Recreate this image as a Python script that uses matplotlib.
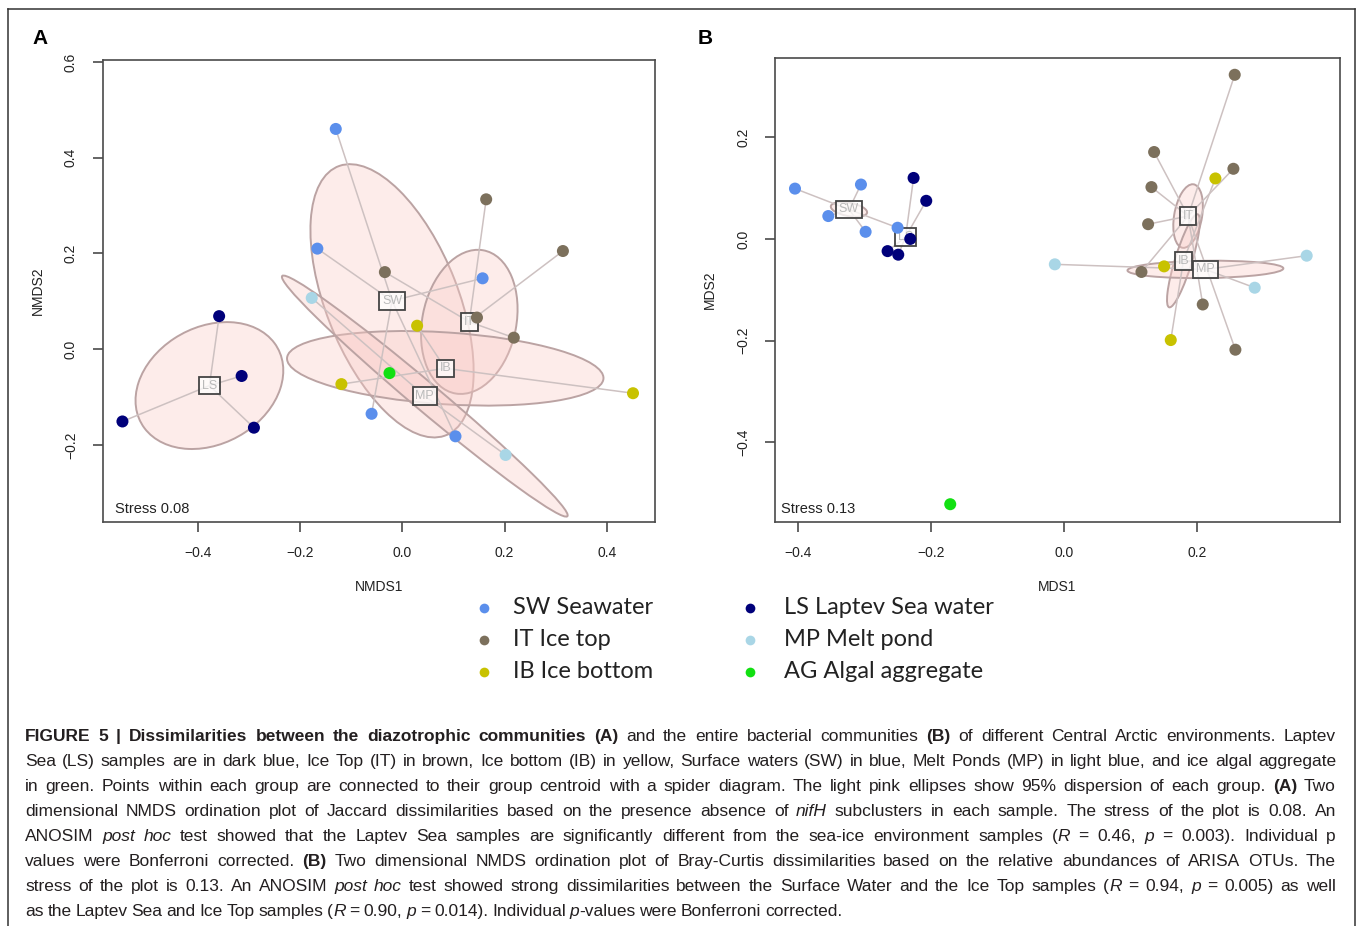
import matplotlib
matplotlib.use("Agg")
import matplotlib.pyplot as plt
from matplotlib.patches import Ellipse
from matplotlib.lines import Line2D
from matplotlib import font_manager
from matplotlib.font_manager import FontProperties

# ---------------- data ----------------
groups = ["SW", "IT", "IB", "LS", "MP", "AG"]
group_names = ["SW Seawater", "IT Ice top", "IB Ice bottom",
               "LS Laptev Sea water", "MP Melt pond", "AG Algal aggregate"]

# Panel A (NMDS, Jaccard on nifH)
a_sw = [(-0.130, 0.460), (-0.166, 0.210), (0.157, 0.148), (-0.060, -0.135), (0.104, -0.182)]
a_it = [(-0.034, 0.161), (0.164, 0.313), (0.314, 0.205), (0.146, 0.066), (0.218, 0.024)]
a_ib = [(0.029, 0.049), (-0.119, -0.073), (0.451, -0.092)]
a_ls = [(-0.358, 0.069), (-0.314, -0.056), (-0.547, -0.151), (-0.290, -0.164)]
a_mp = [(-0.177, 0.107), (0.202, -0.221)]
a_ag = [(-0.025, -0.050)]
a_centroids = {"LS": (-0.377, -0.076), "SW": (-0.020, 0.101), "IT": (0.131, 0.057),
               "IB": (0.084, -0.040), "MP": (0.044, -0.098)}
# ellipse semi-axes (a, b) and angle (deg), data units
a_ellipses = {"LS": (0.155, 0.120, 35), "SW": (0.300, 0.130, -70), "IT": (0.152, 0.092, 80),
              "IB": (0.310, 0.075, -4), "MP": (0.375, 0.028, -42)}
a_stress = "Stress 0.08"

# Panel B (Bray-Curtis on ARISA OTUs)
b_sw = [(-0.404, 0.099), (-0.305, 0.107), (-0.354, 0.045), (-0.298, 0.014), (-0.250, 0.022)]
b_it = [(0.256, 0.323), (0.135, 0.171), (0.254, 0.138), (0.131, 0.102), (0.126, 0.029),
        (0.116, -0.065), (0.208, -0.129), (0.257, -0.218)]
b_ib = [(0.227, 0.119), (0.150, -0.054), (0.160, -0.199)]
b_ls = [(-0.226, 0.120), (-0.207, 0.075), (-0.231, 0.000), (-0.265, -0.024), (-0.249, -0.031)]
b_mp = [(-0.014, -0.050), (0.364, -0.033), (0.286, -0.096)]
b_ag = [(-0.171, -0.522)]
b_centroids = {"SW": (-0.323, 0.058), "LS": (-0.238, 0.004), "IT": (0.186, 0.045),
               "IB": (0.179, -0.043), "MP": (0.212, -0.060)}
b_ellipses = {"SW": (0.028, 0.013, -15), "IT": (0.063, 0.021, 83),
              "IB": (0.094, 0.013, 77), "MP": (0.117, 0.017, 1)}
b_stress = "Stress 0.13"

a_xticks = [-0.4, -0.2, 0.0, 0.2, 0.4]
a_yticks = [-0.2, 0.0, 0.2, 0.4, 0.6]
b_xticks = [-0.4, -0.2, 0.0, 0.2]
b_yticks = [-0.4, -0.2, 0.0, 0.2]

caption_lines = [
    "**FIGURE 5 | Dissimilarities between the diazotrophic communities (A)** and the entire bacterial communities **(B)** of different Central Arctic environments. Laptev",
    "Sea (LS) samples are in dark blue, Ice Top (IT) in brown, Ice bottom (IB) in yellow, Surface waters (SW) in blue, Melt Ponds (MP) in light blue, and ice algal aggregate",
    "in green. Points within each group are connected to their group centroid with a spider diagram. The light pink ellipses show 95% dispersion of each group. **(A)** Two",
    "dimensional NMDS ordination plot of Jaccard dissimilarities based on the presence absence of *nifH* subclusters in each sample. The stress of the plot is 0.08. An",
    "ANOSIM *post hoc* test showed that the Laptev Sea samples are significantly different from the sea-ice environment samples (*R* = 0.46, *p* = 0.003). Individual p",
    "values were Bonferroni corrected. **(B)** Two dimensional NMDS ordination plot of Bray-Curtis dissimilarities based on the relative abundances of ARISA OTUs. The",
    "stress of the plot is 0.13. An ANOSIM *post hoc* test showed strong dissimilarities between the Surface Water and the Ice Top samples (*R* = 0.94, *p* = 0.005) as well",
    "as the Laptev Sea and Ice Top samples (*R* = 0.90, *p* = 0.014). Individual *p*-values were Bonferroni corrected.",
]

# ---------------- style ----------------
colors = {"SW": "#5b8fec", "IT": "#7c705c", "IB": "#c8c200", "LS": "#00007a",
          "MP": "#a9d6e6", "AG": "#12e012"}

W, H = 1358, 926
fig = plt.figure(figsize=(W / 100, H / 100), dpi=100)
available = {f.name for f in font_manager.fontManager.ttflist}
AXFONT = "Liberation Sans" if "Liberation Sans" in available else "DejaVu Sans"
LEGFONT = "Lato" if "Lato" in available else AXFONT
plt.rcParams["font.family"] = [AXFONT, "DejaVu Sans"]


def prop(fs, bo, it):
    return FontProperties(family=AXFONT, size=fs, weight="bold" if bo else "normal",
                          style="italic" if it else "normal")


def fx(px):
    return px / W


def fy(py):
    return 1 - py / H


def fmt(v):
    s = f"{v:.1f}"
    return s.replace("-", "\u2212")


def draw_panel(rect_px, pts, cents, ells, stress, xlim, ylim, xt, yt, xlabel, ylabel, stress_dx):
    l, t, r, b = rect_px
    ax = fig.add_axes([fx(l), fy(b), (r - l) / W, (b - t) / H])
    ax.set_xlim(*xlim)
    ax.set_ylim(*ylim)
    for g, (sa, sb, ang) in ells.items():
        cx, cy = cents[g]
        ax.add_patch(Ellipse((cx, cy), 2 * sa, 2 * sb, angle=ang,
                             facecolor=(0.98, 0.80, 0.78, 0.36),
                             edgecolor="#bba3a3", lw=1.4, zorder=1))
    for g, plist in pts.items():
        if g in cents:
            cx, cy = cents[g]
            for x, y in plist:
                ax.plot([cx, x], [cy, y], color="#cdc1c1", lw=1.1, zorder=2,
                        solid_capstyle="butt")
    for g, (cx, cy) in cents.items():
        ax.text(cx, cy, g, ha="center", va="center", fontsize=9, color="#b9b9b9",
                bbox=dict(boxstyle="square,pad=0.22", fc=(1, 1, 1, 0.75),
                          ec="#444444", lw=1.3), zorder=3)
    for g, plist in pts.items():
        ax.scatter([p[0] for p in plist], [p[1] for p in plist], s=75,
                   color=colors[g], edgecolors="none", zorder=4)
    for sp in ax.spines.values():
        sp.set_color("#4a4a4a")
        sp.set_linewidth(1.2)
    ax.set_xticks(xt)
    ax.set_xticklabels([fmt(v) for v in xt])
    ax.set_yticks(yt)
    ax.set_yticklabels([fmt(v) for v in yt], rotation=90, va="center")
    ax.tick_params(direction="out", length=7, width=1.2, color="#4a4a4a",
                   labelsize=10, labelcolor="#222222")
    ax.tick_params(axis="x", pad=10)
    ax.tick_params(axis="y", pad=11)
    ax.set_xlabel(xlabel, fontsize=10, color="#222222")
    ax.set_ylabel(ylabel, fontsize=10, color="#222222")
    ax.xaxis.set_label_coords(0.5, -65 / (b - t))
    ax.xaxis.label.set_va("center")
    ax.yaxis.set_label_coords(-65 / (r - l), 0.5)
    ax.yaxis.label.set_va("center")
    ax.text(stress_dx / (r - l), 13 / (b - t), stress,
            transform=ax.transAxes, fontsize=10.5, color="#222222",
            ha="left", va="center")
    return ax


pts_a = {"LS": a_ls, "SW": a_sw, "IT": a_it, "IB": a_ib, "MP": a_mp, "AG": a_ag}
pts_b = {"SW": b_sw, "LS": b_ls, "IT": b_it, "IB": b_ib, "MP": b_mp, "AG": b_ag}

draw_panel((103, 60, 655, 522), pts_a, a_centroids, a_ellipses, a_stress,
           (-0.585, 0.494), (-0.361, 0.604), a_xticks, a_yticks, "NMDS1", "NMDS2", 12)
draw_panel((775, 58, 1340, 522), pts_b, b_centroids, b_ellipses, b_stress,
           (-0.434, 0.414), (-0.557, 0.356), b_xticks, b_yticks, "MDS1", "MDS2", 6)

# panel letters
fig.text(fx(40), fy(39), "A", fontsize=15, fontweight="bold", ha="center", va="center")
fig.text(fx(705), fy(39), "B", fontsize=15, fontweight="bold", ha="center", va="center")

# outer frame (left, top, right)
frame_kw = dict(color="#333333", lw=1.1, transform=fig.transFigure)
fig.add_artist(Line2D([fx(8), fx(8)], [fy(9), 0], **frame_kw))
fig.add_artist(Line2D([fx(8), fx(1355)], [fy(9), fy(9)], **frame_kw))
fig.add_artist(Line2D([fx(1355), fx(1355)], [fy(9), 0], **frame_kw))

# legend
leg_cols = [484, 750]
leg_text_x = [513, 784]
leg_rows = [608, 640, 672]
for i, (g, name) in enumerate(zip(groups, group_names)):
    c = i // 3
    rr = i % 3
    fig.add_artist(Line2D([fx(leg_cols[c])], [fy(leg_rows[rr])], marker="o", markersize=7,
                          color=colors[g], markeredgewidth=0, linestyle="none",
                          transform=fig.transFigure))
    fig.text(fx(leg_text_x[c]), fy(leg_rows[rr]), name, family=LEGFONT, fontsize=17,
             color="#222222", ha="left", va="center")

# caption (justified)
renderer = fig.canvas.get_renderer()


def parse(s):
    runs = []
    bold = ital = False
    i = 0
    buf = ""
    while i < len(s):
        if s.startswith("**", i):
            if buf:
                runs.append((buf, bold, ital))
                buf = ""
            bold = not bold
            i += 2
            continue
        if s[i] == "*":
            if buf:
                runs.append((buf, bold, ital))
                buf = ""
            ital = not ital
            i += 1
            continue
        buf += s[i]
        i += 1
    if buf:
        runs.append((buf, bold, ital))
    words = [[]]
    for text, bo, it in runs:
        parts = text.split(" ")
        for k, p in enumerate(parts):
            if k > 0:
                words.append([])
            if p:
                words[-1].append((p, bo, it))
    return [w for w in words if w]


def width(text, fs, bo, it):
    w, h, d = renderer.get_text_width_height_descent(text, prop(fs, bo, it), ismath=False)
    return w


cap_fs = 12.5
MIN_GAP = 0.62
parsed = [parse(s) for s in caption_lines]
X0, X1 = 25, 1336
target = X1 - X0


def natural(words, fs):
    sp = width("a a", fs, False, False) - width("aa", fs, False, False)
    tot = sum(width(p, fs, bo, it) for w in words for (p, bo, it) in w)
    return tot, sp


need = 0
for w in parsed:
    tot, sp = natural(w, cap_fs)
    need = max(need, tot + (len(w) - 1) * sp * MIN_GAP)
if need > target:
    cap_fs *= target / need * 0.998

for li, words in enumerate(parsed):
    base = 741 + 25 * li
    tot, sp = natural(words, cap_fs)
    if li < len(parsed) - 1:
        gap = (target - tot) / (len(words) - 1)
    else:
        gap = sp * 0.8
    x = X0
    for w in words:
        for (p, bo, it) in w:
            fig.text(fx(x), fy(base), p, fontproperties=prop(cap_fs, bo, it),
                     color="#231f20", ha="left", va="baseline")
            x += width(p, cap_fs, bo, it)
        x += gap

fig.savefig("out.png", dpi=100)
